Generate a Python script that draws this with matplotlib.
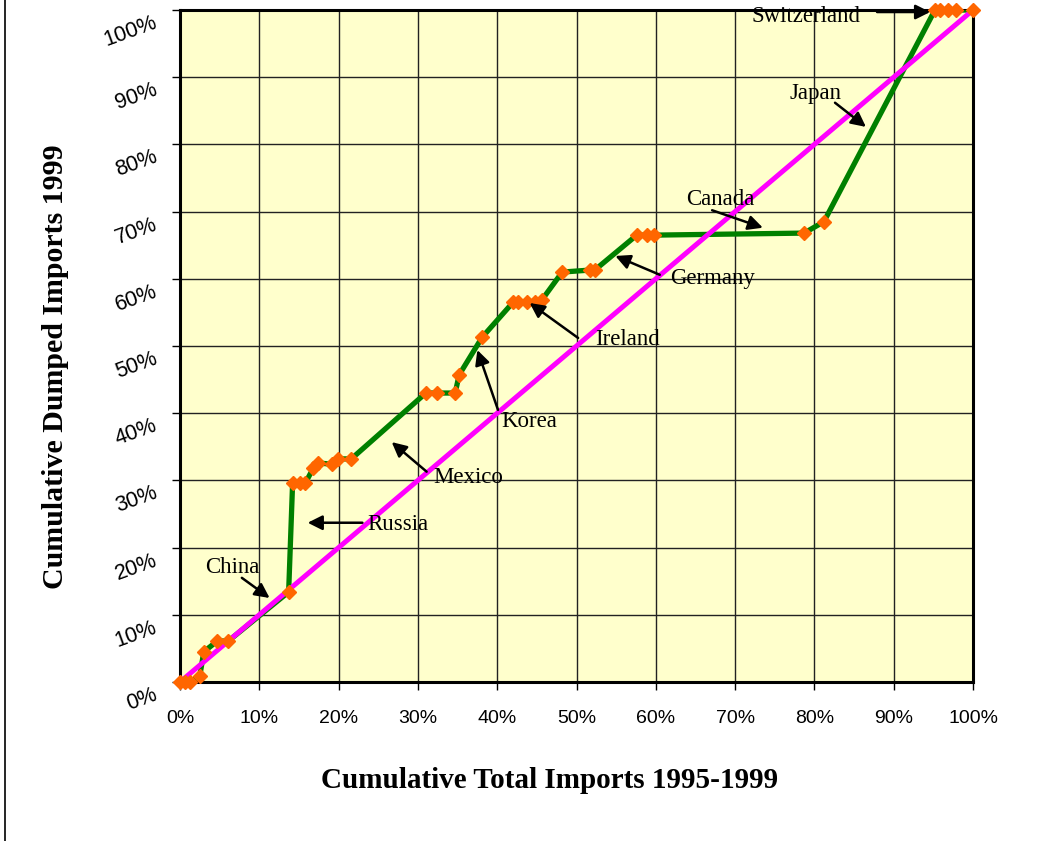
import matplotlib
matplotlib.use("Agg")
import matplotlib.pyplot as plt
import matplotlib.transforms as mtransforms
from matplotlib.lines import Line2D
from matplotlib.ticker import FuncFormatter

# cumulative share of total imports 1995-1999 (%) and of dumped imports 1999 (%)
cum_total = [0.0, 0.6, 1.2, 2.5, 3.0, 4.7, 6.1, 13.7, 14.2, 15.1, 15.8, 16.8, 17.4,
             19.2, 19.9, 21.6, 31.0, 32.4, 34.7, 35.2, 38.1, 42.0, 42.6, 43.7, 44.8,
             45.6, 48.2, 51.7, 52.3, 57.6, 58.9, 59.8, 78.7, 81.2, 95.2, 95.8, 96.9,
             97.9, 100.0]
cum_dumped = [0.0, 0.0, 0.0, 0.9, 4.5, 6.1, 6.1, 13.4, 29.6, 29.6, 29.6, 31.8, 32.6,
              32.4, 33.2, 33.2, 43.0, 43.0, 43.0, 45.7, 51.3, 56.5, 56.5, 56.5, 56.5,
              56.8, 61.0, 61.3, 61.3, 66.5, 66.5, 66.5, 66.8, 68.5, 100.0, 100.0, 100.0,
              100.0, 100.0]
equal_line = [0, 100]

countries = ["China", "Russia", "Mexico", "Korea", "Ireland", "Germany",
             "Canada", "Japan", "Switzerland"]

# label position, arrow tail, arrow head (data units)
notes = {
    "China": ((6.6, 17.1), (7.8, 15.5), (11.3, 12.5)),
    "Russia": ((27.5, 23.4), (23.0, 23.7), (16.1, 23.7)),
    "Mexico": ((36.3, 30.4), (31.1, 31.3), (26.7, 35.7)),
    "Korea": ((44.1, 38.7), (40.1, 40.5), (37.5, 49.4)),
    "Ireland": ((56.4, 50.9), (50.2, 51.2), (44.1, 56.4)),
    "Germany": ((67.1, 60.1), (60.5, 60.6), (54.9, 63.4)),
    "Canada": ((68.1, 71.8), (67.1, 70.2), (73.5, 67.6)),
    "Japan": ((80.2, 87.5), (82.6, 86.2), (86.5, 82.6)),
    "Switzerland": ((78.9, 99.0), (87.9, 99.7), (94.6, 99.7)),
}

fig = plt.figure(figsize=(10.53, 8.41), dpi=100)
ax = fig.add_axes([180 / 1053, 1 - 682 / 841, 793 / 1053, 672 / 841])
ax.set_facecolor("#FFFFCC")

ax.plot(cum_total, cum_dumped, color="#008000", lw=3.8, zorder=3,
        solid_joinstyle="round")
ax.plot(equal_line, equal_line, color="#FF00FF", lw=3.6, zorder=4)
ax.plot(cum_total, cum_dumped, ls="none", marker="D", ms=7.5,
        color="#FF6600", mec="#FF6600", zorder=5, clip_on=False)

for c in countries:
    txt, tail, head = notes[c]
    ax.annotate("", xy=head, xytext=tail,
                arrowprops=dict(arrowstyle="-|>", color="black", lw=1.8,
                                mutation_scale=22, shrinkA=0, shrinkB=0),
                zorder=6)
    ax.text(txt[0], txt[1], c, family="Liberation Serif", fontsize=16.5,
            ha="center", va="center", zorder=7)

ax.set_xlim(0, 100)
ax.set_ylim(0, 100)
ax.set_xticks(range(0, 101, 10))
ax.set_yticks(range(0, 101, 10))
pct = FuncFormatter(lambda v, p: f"{v:.0f}%")
ax.xaxis.set_major_formatter(pct)
ax.yaxis.set_major_formatter(pct)
ax.grid(True, color="#222222", lw=1.0)
ax.set_axisbelow(True)
for s in ax.spines.values():
    s.set_linewidth(2.2)
    s.set_color("black")

ax.tick_params(axis="x", direction="out", length=6, width=1, pad=14,
               labelsize=14)
ax.tick_params(axis="y", direction="out", length=6, width=1, pad=11,
               labelsize=15.5)
for lab in ax.get_xticklabels():
    lab.set_family("Liberation Sans")
shift = mtransforms.ScaledTranslation(0, -12 / 100, fig.dpi_scale_trans)
for lab in ax.get_yticklabels():
    lab.set_family("Liberation Sans")
    lab.set_rotation(20)
    lab.set_ha("right")
    lab.set_va("center")
    lab.set_rotation_mode("anchor")
    lab.set_transform(lab.get_transform() + shift)

fig.text(550 / 1053, 1 - 781 / 841, "Cumulative Total Imports 1995-1999",
         family="Liberation Serif", fontweight="bold", fontsize=21,
         ha="center", va="center")
fig.text(56 / 1053, 1 - 367 / 841, "Cumulative Dumped Imports 1999",
         family="Liberation Serif", fontweight="bold", fontsize=21.5,
         ha="center", va="center", rotation=90)

# outer chart border on the left
fig.add_artist(Line2D([5 / 1053, 5 / 1053], [0, 1], color="black", lw=1.2))

fig.savefig("out.png", dpi=100)
